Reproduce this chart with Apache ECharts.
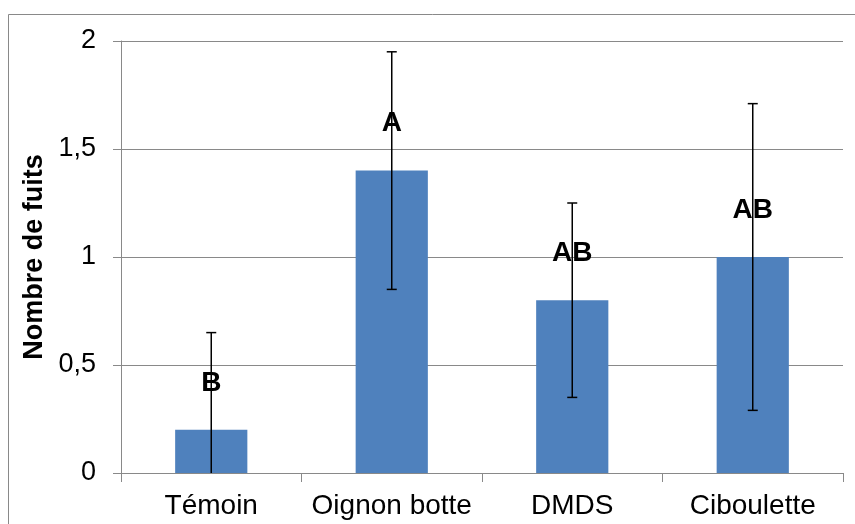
<!DOCTYPE html>
<html>
<head>
<meta charset="utf-8">
<script src="https://cdn.jsdelivr.net/npm/echarts@6/dist/echarts.min.js"></script>
<style>
  html, body { margin: 0; padding: 0; background: #fff; }
  #chart { width: 855px; height: 524px; }
</style>
</head>
<body>
<div id="chart"></div>
<script>
const categories = ["Témoin", "Oignon botte", "DMDS", "Ciboulette"];
const values = [0.2, 1.4, 0.8, 1.0];
const errors = [0.45, 0.55, 0.45, 0.71];
const letters = ["B", "A", "AB", "AB"];
const yTickLabels = ["0", "0,5", "1", "1,5", "2"];

const FONT = "'Liberation Sans', Arial, sans-serif";
const GREY = "#898989";

const chart = echarts.init(document.getElementById("chart"));

// barres d'erreur (pas de chapeau si la borne basse est coupée à 0)
function renderErrorBar(params, api) {
  const x = api.value(0);
  const v = api.value(1);
  const e = api.value(2);
  const lowRaw = v - e;
  const low = Math.max(0, lowRaw);
  const top = api.coord([x, v + e]);
  const bottom = api.coord([x, low]);
  const half = 5;
  const style = { stroke: "#000", lineWidth: 1.5 };
  const children = [
    { type: "line", shape: { x1: top[0], y1: top[1], x2: bottom[0], y2: bottom[1] }, style },
    { type: "line", shape: { x1: top[0] - half, y1: top[1], x2: top[0] + half, y2: top[1] }, style },
  ];
  if (lowRaw >= 0) {
    children.push({ type: "line", shape: { x1: bottom[0] - half, y1: bottom[1], x2: bottom[0] + half, y2: bottom[1] }, style });
  }
  return { type: "group", children };
}

const option = {
  animation: false,
  backgroundColor: "#fff",
  textStyle: { fontFamily: FONT },
  graphic: [
    {
      type: "rect",
      shape: { x: 8.5, y: 14.5, width: 900, height: 600 },
      style: { fill: "none", stroke: GREY, lineWidth: 1 },
      silent: true,
    },
  ],
  grid: { left: 121, right: 12, top: 41, bottom: 51 },
  xAxis: {
    type: "category",
    data: categories,
    axisLine: { lineStyle: { color: GREY } },
    axisTick: { show: true, length: 9, lineStyle: { color: GREY } },
    axisLabel: { color: "#000", fontSize: 28, fontFamily: FONT, margin: 19, interval: 0 },
  },
  yAxis: {
    type: "value",
    min: 0,
    max: 2,
    interval: 0.5,
    name: "Nombre de fuits",
    nameLocation: "middle",
    nameGap: 72,
    nameTextStyle: { color: "#000", fontSize: 27, fontWeight: "bold", fontFamily: FONT },
    axisLine: { show: true, lineStyle: { color: GREY } },
    axisTick: { show: true, length: 8, lineStyle: { color: GREY } },
    axisLabel: {
      color: "#000",
      fontSize: 27,
      fontFamily: FONT,
      margin: 25,
      formatter: (v) => yTickLabels[Math.round(v / 0.5)],
    },
    splitLine: { lineStyle: { color: GREY } },
  },
  series: [
    {
      type: "bar",
      data: values,
      barWidth: "40%",
      itemStyle: { color: "#4F81BD" },
      label: {
        show: true,
        position: "top",
        distance: 33,
        color: "#000",
        fontSize: 28,
        fontWeight: "bold",
        fontFamily: FONT,
        formatter: (p) => letters[p.dataIndex],
      },
    },
    {
      type: "custom",
      renderItem: renderErrorBar,
      data: values.map((v, i) => [i, v, errors[i]]),
      z: 10,
    },
  ],
};

chart.setOption(option);
</script>
</body>
</html>
